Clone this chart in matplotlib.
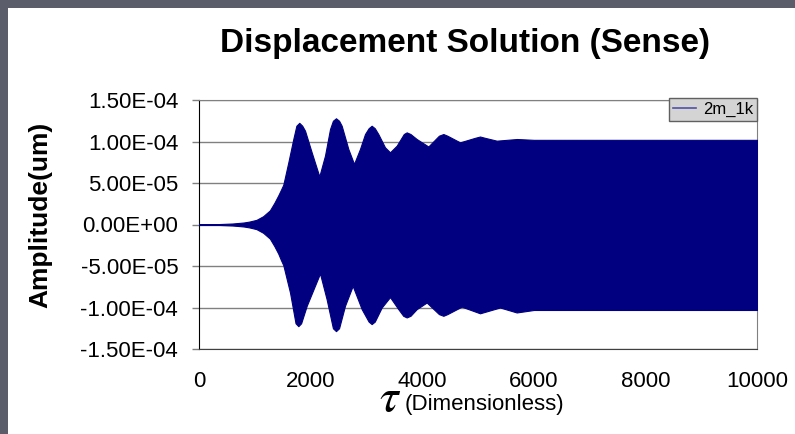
import numpy as np
import matplotlib.pyplot as plt
from matplotlib.patches import Rectangle
from matplotlib.lines import Line2D
from matplotlib.ticker import FuncFormatter

plt.rcParams['font.family'] = ['Liberation Sans', 'DejaVu Sans']
plt.rcParams['mathtext.fontset'] = 'stix'

# envelope of the oscillation (amplitude in units of 1e-4 um)
tau_upper = [0, 350, 600, 800, 900, 1030, 1150, 1270, 1350, 1420, 1470, 1511, 1601, 1690,
             1745, 1797, 1850, 1900, 2019, 2156, 2258, 2348, 2400, 2455, 2510, 2557, 2676,
             2778, 2885, 2975, 3040, 3094, 3150, 3213, 3333, 3423, 3543, 3670, 3722, 3790,
             3901, 4110, 4300, 4379, 4450, 4677, 4950, 5036, 5120, 5335, 5700, 6000, 7000,
             8000, 9000, 10000]
amp_upper = [0, 0.005, 0.012, 0.024, 0.035, 0.056, 0.1, 0.17, 0.26, 0.35, 0.42, 0.48, 0.75, 1.03,
             1.19, 1.225, 1.19, 1.13, 0.87, 0.58, 0.83, 1.15, 1.25, 1.28, 1.25, 1.19, 0.91,
             0.73, 0.91, 1.09, 1.16, 1.19, 1.16, 1.09, 0.93, 0.87, 0.95, 1.09, 1.11, 1.09,
             1.03, 0.94, 1.07, 1.09, 1.07, 0.99, 1.045, 1.06, 1.045, 1.01, 1.03, 1.02, 1.02,
             1.02, 1.02, 1.02]

tau_lower = [0, 350, 600, 800, 900, 1030, 1150, 1270, 1350, 1420, 1470, 1511, 1631, 1730,
             1780, 1830, 1930, 2168, 2287, 2400, 2455, 2510, 2616, 2754, 2916, 3040, 3094,
             3150, 3274, 3423, 3572, 3660, 3722, 3790, 3901, 4080, 4300, 4379, 4450, 4707,
             5036, 5394, 5693, 6000, 7000, 8000, 9000, 10000]
amp_lower = [0, -0.005, -0.012, -0.024, -0.035, -0.056, -0.1, -0.17, -0.26, -0.35, -0.43, -0.49,
             -0.82, -1.19, -1.225, -1.19, -0.98, -0.59, -0.9, -1.25, -1.285, -1.25, -0.98,
             -0.74, -1.02, -1.17, -1.2, -1.17, -1.0, -0.875, -1.02, -1.10, -1.12, -1.10,
             -1.02, -0.94, -1.08, -1.10, -1.08, -0.99, -1.07, -1.0, -1.06, -1.03, -1.03,
             -1.03, -1.03, -1.03]

series_name = '2m_1k'
y_ticks = [-1.5e-4, -1.0e-4, -0.5e-4, 0, 0.5e-4, 1.0e-4, 1.5e-4]
x_ticks = [0, 2000, 4000, 6000, 8000, 10000]

W, H = 795, 434
fig = plt.figure(figsize=(W / 100, H / 100), dpi=100)
fig.patch.set_facecolor('#5b5d6b')
fig.patches.append(Rectangle((8 / W, 0), 1, (H - 8) / H, transform=fig.transFigure,
                             facecolor='white', edgecolor='none', zorder=-10))

ax = fig.add_axes([199 / W, 1 - 349 / H, (757 - 199) / W, (349 - 100) / H])
ax.set_zorder(2)

# common grid for both envelopes
tau = np.union1d(tau_upper, tau_lower)
up = np.interp(tau, tau_upper, amp_upper) * 1e-4
lo = np.interp(tau, tau_lower, amp_lower) * 1e-4
ax.fill_between(tau, lo, up, facecolor='#000080', edgecolor='#000080', lw=0.8, zorder=3)

ax.set_xlim(0, 10000)
ax.set_ylim(-1.5e-4, 1.5e-4)
ax.set_yticks(y_ticks)
ax.set_xticks(x_ticks)
ax.yaxis.set_major_formatter(FuncFormatter(lambda v, p: f'{v:.2E}'))
ax.grid(axis='y', color='#808080', lw=1)
ax.set_axisbelow(True)
ax.tick_params(axis='y', length=5, width=1, color='#808080', labelsize=16, pad=10)
ax.tick_params(axis='x', length=0, labelsize=16, pad=16)

for s in ['top', 'right']:
    ax.spines[s].set_color('#808080')
ax.spines['left'].set_color('black')
ax.spines['bottom'].set_color('#404040')

handle = Line2D([], [], color='#5050a8', lw=1.2)
leg = ax.legend([handle], [series_name], loc='upper right', bbox_to_anchor=(1.0, 1.01),
                fontsize=12, frameon=True, fancybox=False, framealpha=1,
                handlelength=1.4, handletextpad=0.4, borderpad=0.25, borderaxespad=0)
leg.get_frame().set_facecolor('#d4d4d4')
leg.get_frame().set_edgecolor('#606060')
leg.get_frame().set_linewidth(1)

fig.text(465 / W, 1 - 52 / H, 'Displacement Solution (Sense)', ha='center', va='baseline',
         fontsize=24, fontweight='bold')
fig.text(40 / W, 1 - 215 / H, 'Amplitude(um)', ha='center', va='center', rotation=90,
         fontsize=19, fontweight='bold')
fig.text(401 / W, 1 - 411 / H, r'$\tau$', ha='right', va='baseline', fontsize=34)
fig.text(405 / W, 1 - 410 / H, '(Dimensionless)', ha='left', va='baseline', fontsize=16)

fig.savefig('out.png', dpi=100)
